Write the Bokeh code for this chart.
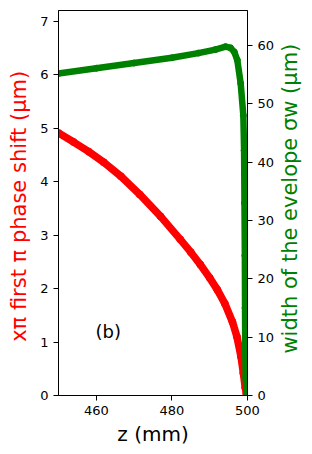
import math
from bokeh.plotting import figure
from bokeh.models import Range1d, LinearAxis, FixedTicker
from bokeh.layouts import row
from bokeh.embed import file_html
from bokeh.resources import INLINE
from bokeh.core.properties import value

# red series: first pi phase shift x_pi (um) vs z (mm)
z_red = [450, 454, 458, 462, 466.5, 471.5, 477, 482.2, 485, 487.5, 490, 492, 494, 496, 497.2, 498.3, 498.9, 499.4, 499.7]
x_pi = [4.91, 4.74, 4.56, 4.36, 4.10, 3.76, 3.35, 2.92, 2.68, 2.45, 2.20, 1.98, 1.72, 1.38, 1.10, 0.72, 0.42, 0.15, 0.03]

# green series: envelope width sigma_w (um) vs z (mm)
z_green = [450, 460, 470, 480, 487, 491.5, 494.2, 495.5, 496.5, 497.3, 498.2, 498.9, 499.1, 499.2, 499.3, 499.35, 499.4, 499.5, 499.8]
sigma_w = [55.2, 56.1, 57.0, 57.9, 58.7, 59.3, 59.8, 59.6, 58.9, 57.5, 53.5, 48.0, 42.0, 33.0, 24.0, 15.0, 8.0, 3.0, 0.5]

left_ticks = [0, 1, 2, 3, 4, 5, 6, 7]
right_ticks = [0, 10, 20, 30, 40, 50, 60]
x_ticks = [460, 480, 500]

FONT = "DejaVu Sans"

p = figure(frame_width=189, frame_height=385, output_backend="svg", toolbar_location=None,
           x_range=Range1d(450, 500), y_range=Range1d(0, 7.2),
           min_border_left=58, min_border_right=30, min_border_top=10, min_border_bottom=59)
p.extra_y_ranges = {"r": Range1d(0, 66)}

p.grid.visible = False
p.outline_line_color = "black"
p.outline_line_width = 1
p.background_fill_color = "white"
p.border_fill_color = "white"

# red
p.line(z_red, x_pi, line_color="red", line_width=7.5, line_join="round")
p.scatter(z_red, x_pi, size=7, fill_color="red", line_color="red")

# green
p.line(z_green, sigma_w, line_color="green", line_width=6.5, line_join="round", y_range_name="r")
p.scatter(z_green, sigma_w, size=6, fill_color="green", line_color="green", y_range_name="r")

p.text(x=[459.8], y=[1.2], text=["(b)"], text_font=value(FONT), text_font_size="18px",
       text_baseline="middle", text_align="left", text_color="black")

right = LinearAxis(y_range_name="r")
p.add_layout(right, "right")

for ax, ticks in [(p.xaxis[0], x_ticks), (p.yaxis[0], left_ticks), (right, right_ticks)]:
    ax.ticker = FixedTicker(ticks=ticks)
    ax.minor_tick_line_color = None
    ax.major_tick_out = 5
    ax.major_tick_in = 0
    ax.axis_line_color = "black"
    ax.major_label_text_font = FONT
    ax.major_label_text_font_size = "13px"
    ax.major_label_text_color = "black"
    ax.axis_label_text_font = FONT
    ax.axis_label_text_font_style = "normal"

p.xaxis[0].axis_label = "z (mm)"
p.xaxis[0].axis_label_text_font_size = "20px"
p.xaxis[0].axis_label_text_color = "black"
p.xaxis[0].axis_label_standoff = 4

p.yaxis[0].axis_label = "xπ first π phase shift  (μm)"
p.yaxis[0].axis_label_text_font_size = "21px"
p.yaxis[0].axis_label_text_color = "red"
p.yaxis[0].axis_label_standoff = 6

# narrow side figure carrying the right-hand axis title, reading bottom-to-top
p2 = figure(width=35, height=454, output_backend="svg", toolbar_location=None,
            x_range=Range1d(0, 35), y_range=Range1d(0, 454),
            min_border_left=0, min_border_right=0, min_border_top=0, min_border_bottom=0)
p2.axis.visible = False
p2.grid.visible = False
p2.outline_line_color = None
p2.background_fill_color = "white"
p2.border_fill_color = "white"
p2.text(x=[12], y=[240], text=["width of the evelope  σw  (μm)"], angle=math.pi / 2,
        text_align="center", text_baseline="middle", text_font=value(FONT),
        text_font_size="21px", text_color="green")

layout = row(p, p2, spacing=0)
open("out.html", "w").write(file_html(layout, INLINE))
